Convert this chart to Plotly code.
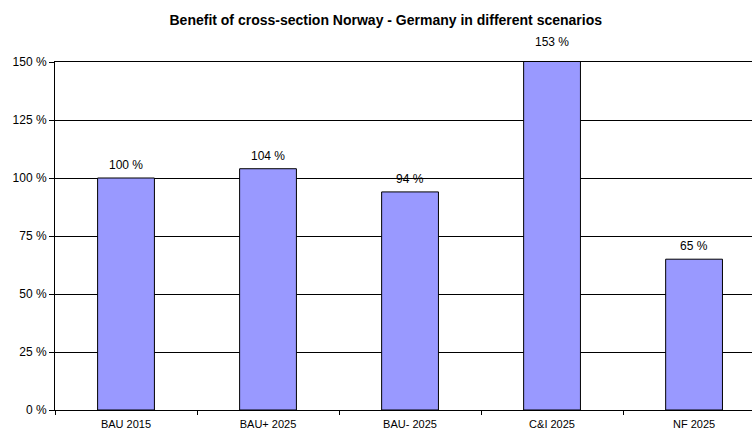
import plotly.graph_objects as go

# Scenario results relative to BAU 2015
scenarios = ["BAU 2015", "BAU+ 2025", "BAU- 2025", "C&I 2025", "NF 2025"]
benefit_pct = [100, 104, 94, 153, 65]
y_ticks = [0, 25, 50, 75, 100, 125, 150]
y_tick_labels = [f"{v} %" for v in y_ticks]
Y_MAX = 150

FONT = "Liberation Sans, Arial, sans-serif"

fig = go.Figure()
fig.add_trace(go.Bar(
    x=scenarios,
    y=benefit_pct,
    width=0.4,
    marker=dict(color="#9999FF", line=dict(color="#000000", width=1)),
    hoverinfo="x+y",
))

# value labels above each bar (paper-referenced so the label of a bar
# running past the axis maximum is still drawn above the plot area)
for s, v in zip(scenarios, benefit_pct):
    fig.add_annotation(
        x=s, y=v / Y_MAX, xref="x", yref="paper",
        text=f"{v} %", showarrow=False,
        yanchor="bottom", yshift=4,
        font=dict(family=FONT, size=12, color="#000000"),
    )

fig.update_layout(
    width=752, height=433,
    margin=dict(l=55, r=0, t=62, b=23),
    paper_bgcolor="white", plot_bgcolor="white",
    showlegend=False,
    title=dict(
        text="<b>Benefit of cross-section Norway - Germany in different scenarios</b>",
        x=0.513, xanchor="center", y=0.954, yanchor="middle",
        font=dict(family=FONT, size=14, color="#000000"),
    ),
    font=dict(family=FONT, size=11, color="#000000"),
)

fig.update_xaxes(
    range=[-0.5, 4.408],
    showline=True, linecolor="#000000", linewidth=1, mirror=True,
    ticks="outside", tickson="boundaries", ticklen=4, tickcolor="#000000",
    ticklabelstandoff=4,
    showgrid=False,
    tickfont=dict(family=FONT, size=11, color="#000000"),
)
fig.update_yaxes(
    range=[0, Y_MAX],
    tickvals=y_ticks, ticktext=y_tick_labels,
    showline=True, linecolor="#000000", linewidth=1,
    ticks="outside", ticklen=5, tickcolor="#000000",
    showgrid=True, gridcolor="#000000", gridwidth=1,
    zeroline=False,
    tickfont=dict(family=FONT, size=12, color="#000000"),
)

fig.write_html("out.html")
